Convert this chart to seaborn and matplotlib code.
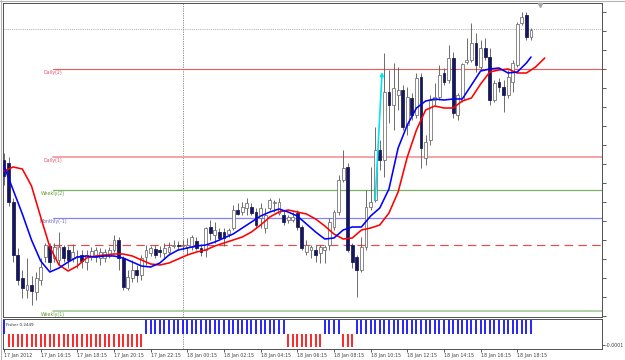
import numpy as np
import pandas as pd
import matplotlib
matplotlib.use("Agg")
import matplotlib.pyplot as plt
import matplotlib.transforms as mtransforms
from matplotlib.lines import Line2D
import seaborn as sns

sns.set_style("white")
plt.rcParams['font.family'] = ['DejaVu Sans']

# ---------------- data (prices in points, 15-minute bars from 17 Jan 14:15) ----------------
open_ = [180, 177, 138, 85, 62, 50, 55, 48, 60, 83,
         94, 82, 80, 93, 90, 82, 83, 85, 78, 83,
         83, 82, 82, 85, 90, 100, 82, 52, 62, 70,
         65, 83, 87, 91, 90, 87, 88, 94, 95, 94,
         93, 93, 99, 92, 90, 113, 105, 108, 108, 106,
         112, 130, 128, 132, 133, 128, 122, 112, 132, 137,
         127, 125, 120, 120, 127, 113, 88, 90, 90, 87,
         90, 95, 113, 128, 160, 173, 95, 83, 70, 93,
         133, 140, 190, 180, 248, 235, 245, 250, 215, 242,
         225, 263, 182, 200, 240, 243, 267, 260, 282, 225,
         240, 278, 280, 297, 273, 292, 283, 240, 258, 253,
         245, 258, 275, 317, 325, 303]
high_ = [187, 183, 142, 92, 70, 82, 64, 68, 82, 97,
         97, 97, 108, 95, 94, 96, 90, 90, 90, 93,
         93, 92, 91, 93, 105, 103, 84, 70, 80, 75,
         85, 95, 94, 95, 94, 97, 98, 100, 99, 100,
         102, 105, 103, 96, 113, 120, 118, 112, 112, 112,
         135, 137, 138, 142, 137, 132, 137, 132, 142, 140,
         142, 130, 125, 128, 130, 115, 100, 95, 95, 95,
         95, 122, 130, 165, 190, 177, 97, 85, 103, 150,
         173, 213, 200, 287, 270, 277, 273, 255, 253, 247,
         267, 267, 205, 245, 257, 275, 272, 295, 288, 247,
         277, 302, 317, 307, 300, 302, 292, 260, 262, 260,
         270, 280, 318, 328, 328, 312]
low_ = [155, 134, 78, 55, 42, 42, 35, 40, 55, 78,
        70, 78, 75, 78, 72, 78, 72, 72, 70, 80,
        78, 75, 78, 82, 88, 70, 50, 50, 58, 58,
        60, 75, 84, 82, 83, 82, 85, 92, 90, 90,
        85, 90, 90, 84, 83, 100, 97, 100, 94, 103,
        110, 125, 125, 125, 125, 112, 112, 107, 130, 128,
        125, 115, 117, 118, 110, 90, 85, 82, 78, 77,
        77, 90, 110, 125, 158, 88, 72, 43, 68, 90,
        130, 138, 170, 163, 217, 210, 230, 210, 205, 220,
        222, 172, 175, 195, 235, 240, 255, 257, 222, 220,
        238, 276, 278, 268, 270, 280, 235, 238, 248, 228,
        242, 248, 273, 315, 300, 300]
close_ = [164, 138, 85, 60, 52, 55, 49, 62, 73, 95,
          78, 93, 93, 82, 80, 88, 84, 79, 85, 89,
          90, 88, 88, 90, 100, 82, 53, 63, 70, 65,
          82, 90, 92, 85, 88, 92, 93, 95, 94, 95,
          95, 103, 92, 88, 112, 107, 110, 102, 102, 110,
          130, 126, 133, 137, 127, 115, 132, 125, 140, 138,
          138, 118, 123, 123, 113, 92, 95, 93, 85, 93,
          93, 118, 128, 160, 172, 90, 78, 70, 93, 133,
          138, 190, 180, 248, 235, 252, 250, 213, 243, 225,
          262, 192, 198, 240, 243, 265, 258, 282, 227, 245,
          276, 280, 297, 275, 292, 283, 240, 257, 253, 245,
          263, 277, 316, 323, 303, 310]

# fast (blue) and slow (red) moving averages, read every second bar
ma_fast_bar = [0, 2, 4, 6, 8, 10, 12, 14, 16, 18, 20, 22, 24, 26, 28, 30, 32, 34, 36, 38,
               40, 42, 44, 46, 48, 50, 52, 54, 56, 58, 60, 62, 64, 66, 68, 70, 72, 74, 76, 78,
               80, 82, 84, 86, 88, 90, 92, 94, 96, 98, 100, 102, 104, 106, 108, 110, 112, 114, 115]
ma_fast = [174, 150, 126, 100, 79, 68, 72, 78, 83, 84, 83, 84, 84, 82, 78, 74, 73, 77, 85, 90,
           92, 94, 95, 98, 102, 106, 112, 118, 124, 128, 131, 128, 124, 116, 108, 101, 102, 110, 113, 113,
           124, 132, 151, 192, 215, 232, 239, 241, 240, 241, 241, 255, 269, 271, 272, 267, 268, 277, 283]
ma_slow_bar = [0, 2, 4, 6, 8, 10, 12, 14, 16, 18, 20, 22, 24, 26, 28, 30, 32, 34, 36, 38,
               40, 42, 44, 46, 48, 50, 52, 54, 56, 58, 60, 62, 64, 66, 68, 70, 72, 74, 76, 78,
               80, 82, 84, 86, 88, 90, 92, 94, 96, 98, 100, 102, 104, 106, 108, 110, 112, 114, 116, 118]
ma_slow = [169, 173, 171, 154, 123, 93, 75, 69, 74, 82, 84, 85, 86, 86, 84, 80, 76, 75, 77, 81,
           85, 88, 90, 94, 97, 100, 103, 108, 115, 123, 128, 130, 128, 126, 121, 114, 106, 101, 102, 110,
           112, 115, 127, 148, 183, 210, 230, 234, 232, 232, 239, 242, 256, 268, 270, 271, 267, 267, 273, 282]

# Fisher histogram sign per bar
fisher = [1, -1, -1, -1, -1, -1, -1, -1, -1, -1,
          -1, -1, -1, -1, -1, -1, -1, -1, -1, -1,
          -1, -1, -1, -1, -1, -1, -1, -1, -1, -1,
          -1, 1, 1, 1, 1, 1, 1, 1, 1, 1,
          1, 1, 1, 1, 1, 1, 1, 1, 1, 1,
          1, 1, 1, 1, 1, 1, 1, 1, 1, 1,
          1, 1, -1, -1, -1, -1, -1, -1, -1, -1,
          1, 1, 1, 1, -1, -1, -1, 1, 1, 1,
          1, 1, 1, 1, 1, 1, 1, 1, 1, 1,
          1, 1, 1, 1, 1, 1, 1, 1, 1, 1,
          1, 1, 1, 1, 1, 1, 1, 1, 1, 1,
          1, 1, 1, 1, 1, 1]
fisher_text = "Fisher 0.2449"

# pivot levels
level_names = ["Daily(2)", "Daily(1)", "Weekly(2)", "Monthly(-1)", "Daily(0)", "Weekly(1)"]
level_values = [271, 183, 150, 122, 95, 29]
level_colors = ["#f05a5a", "#f4a4a4", "#7cb064", "#8282ff", "#ec4a4a", "#a8cca0"]
level_widths = [0.8, 1.4, 0.9, 0.9, 0.85, 1.3]
level_styles = ["-", "-", "-", "-", (0, (7.2, 4.5)), "-"]
label_colors = ["#e8506a", "#e8506a", "#6a9a3a", "#6a6ab8", "#e8506a", "#6a9a3a"]
bid_level = 311

price_ticks = [328, 309, 290, 271, 252, 233, 214, 195, 176, 157, 138, 119, 100, 81, 62, 43, 24]
tick_bars = [0, 8, 16, 24, 32, 40, 48, 56, 64, 72, 80, 88, 96, 104, 112]
tick_labels = ["17 Jan 2012", "17 Jan 16:15", "17 Jan 18:15", "17 Jan 20:15", "17 Jan 22:15",
               "18 Jan 00:15", "18 Jan 02:15", "18 Jan 04:15", "18 Jan 06:15", "18 Jan 08:15",
               "18 Jan 10:15", "18 Jan 12:15", "18 Jan 14:15", "18 Jan 16:15", "18 Jan 18:15"]
day_separator_bar = 39
arrow_from = (81, 140)
arrow_to = (82.5, 268)

# ---------------- layout ----------------
LEVEL_START = 10.7
XLIM = (-0.33, 130.42)
fig = plt.figure(figsize=(6.25, 3.6), dpi=100)
fig.patch.set_facecolor("white")
ax = fig.add_axes([0.004, 0.11944, 0.9587, 0.87361])
ax2 = fig.add_axes([0.004, 0.030556, 0.9587, 0.08333], sharex=ax)

# frame lines of window
fig.add_artist(Line2D([0, 1], [0.9985, 0.9985], transform=fig.transFigure, color="#b4b4b4", lw=0.8))
fig.add_artist(Line2D([0.0008, 0.0008], [0, 1], transform=fig.transFigure, color="#b4b4b4", lw=0.8))

# bid line
ax.axhline(bid_level, color="#a8a8a8", lw=0.7, ls=(0, (1, 1.2)), zorder=1)

# levels
for name, val, col, lw, ls, lcol in zip(level_names, level_values, level_colors,
                                         level_widths, level_styles, label_colors):
    ax.plot([LEVEL_START, XLIM[1]], [val, val], color=col, lw=lw, linestyle=ls, zorder=2)
    ax.annotate(name, xy=(LEVEL_START, val), xytext=(0, -1.0), textcoords="offset points",
                ha="center", va="top", fontsize=3.4, color=lcol, zorder=2.5)

# separator
for a in (ax, ax2):
    a.axvline(day_separator_bar, color="#8a8a8a", lw=0.7, ls=(0, (1.2, 1.2)), zorder=1)

# candles
idx = np.arange(len(open_))
o = np.array(open_, dtype=float)
c = np.array(close_, dtype=float)
h = np.array(high_, dtype=float)
l = np.array(low_, dtype=float)
up = c >= o
ax.vlines(idx, l, h, color="#555555", lw=0.6, zorder=3)
ax.bar(idx[up], (c - o)[up], bottom=o[up], width=0.62, color="white",
       edgecolor="#6a6a6a", lw=0.55, zorder=4)
ax.bar(idx[~up], (o - c)[~up], bottom=c[~up], width=0.62, color="#16165a",
       edgecolor="#16165a", lw=0.55, zorder=4)

# moving averages
df_fast = pd.DataFrame({"bar": ma_fast_bar, "price": ma_fast})
df_slow = pd.DataFrame({"bar": ma_slow_bar, "price": ma_slow})
sns.lineplot(data=df_slow, x="bar", y="price", color="#ff0000", lw=1.15, ax=ax, zorder=6)
sns.lineplot(data=df_fast, x="bar", y="price", color="#0000ff", lw=1.15, ax=ax, zorder=6)

# cyan arrow
ax.annotate("", xy=arrow_to, xytext=arrow_from,
            arrowprops=dict(arrowstyle="-|>", color="#00e4f0", lw=1.2, mutation_scale=5,
                            shrinkA=0, shrinkB=0), zorder=7)

# chart shift marker
trans = mtransforms.blended_transform_factory(ax.transData, ax.transAxes)
ax.plot([117], [0.993], transform=trans, marker="v", ms=3, color="#a8a8a8", clip_on=False, zorder=8)

ax.set_xlim(*XLIM)
ax.set_ylim(23, 337.5)
ax.set_xlabel("")
ax.set_ylabel("")
ax.yaxis.tick_right()
ax.set_yticks(price_ticks)
ax.set_yticklabels([])
ax.tick_params(axis="y", direction="out", length=3, width=0.6, color="#404040", right=True, left=False)
ax.tick_params(axis="x", bottom=False, labelbottom=False)

# Fisher panel
fx = np.arange(len(fisher))
fv = np.array(fisher, dtype=float)
ax2.vlines(fx[fv > 0], 0, fv[fv > 0], colors="#1414ff", lw=1.3, zorder=3)
ax2.vlines(fx[fv < 0], fv[fv < 0], 0, colors="#ff1414", lw=1.3, zorder=3)
ax2.set_ylim(-1.15, 1.08)
ax2.text(0.006, 0.8, fisher_text, transform=ax2.transAxes, fontsize=3.0, color="#303030",
         va="center", ha="left", zorder=5)
ax2.yaxis.tick_right()
ax2.set_yticks([-0.855])
ax2.set_yticklabels(["-0.0001"], fontsize=3.4, color="#404040")
ax2.tick_params(axis="y", direction="out", length=2, width=0.6, pad=0.8, color="#404040")
ax2.set_xticks(tick_bars)
ax2.set_xticklabels(tick_labels, ha="left", fontsize=3.4, color="#404040")
ax2.tick_params(axis="x", direction="out", length=2, width=0.6, pad=0.8, color="#404040", bottom=True)
ax2.set_xlabel("")
ax2.set_ylabel("")

for a in (ax, ax2):
    a.set_facecolor("white")
    for s in a.spines.values():
        s.set_color("#505050")
        s.set_linewidth(0.7)

fig.savefig("out.png", dpi=100, facecolor="white")
